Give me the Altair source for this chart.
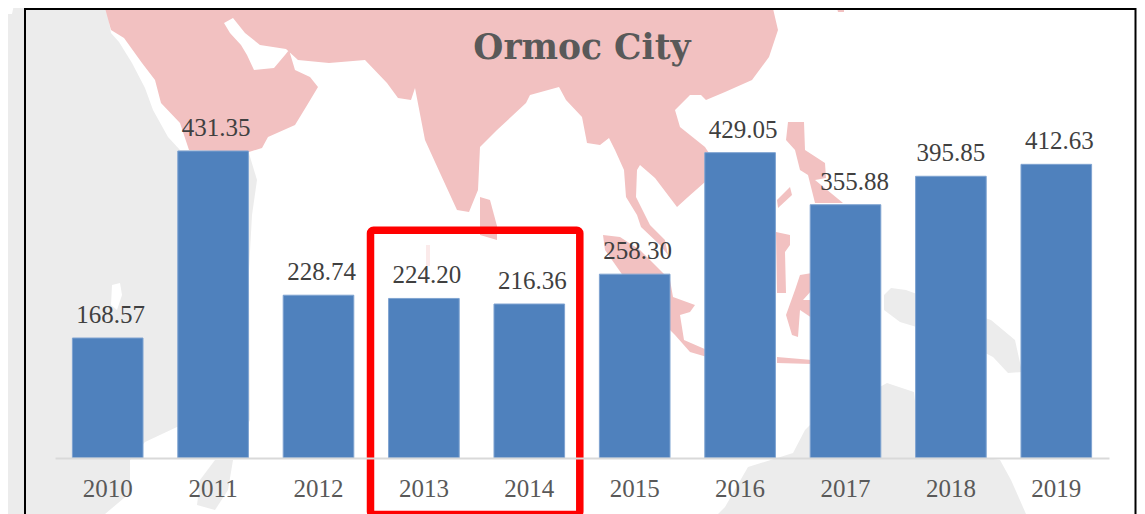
import altair as alt
import pandas as pd

years = ["2010", "2011", "2012", "2013", "2014", "2015", "2016", "2017", "2018", "2019"]
values = [168.57, 431.35, 228.74, 224.20, 216.36, 258.30, 429.05, 355.88, 395.85, 412.63]
labels = ["168.57", "431.35", "228.74", "224.20", "216.36", "258.30", "429.05", "355.88", "395.85", "412.63"]

# Decorative background map outlines (traced in picture pixels)
asia = [[(105,0),(105,8),(111,30),(124,38),(142,63),(155,80),(161,103),(180,123),(189,150),(249,152),(262,148),
         (268,137),(295,125),(306,107),(318,87),(310,77),(295,70),(292,60),(289,50),(285,55),(274,68),(254,70),
         (247,55),(241,45),(230,33),(224,23),(233,18),(245,33),(260,45),(286,49),(298,60),(329,63),(365,60),
         (387,83),(398,98),(411,100),(415,88),(425,140),(440,173),(457,210),(469,212),(478,190),(480,147),
         (497,130),(526,103),(530,95),(559,87),(566,100),(582,117),(587,143),(600,145),(609,138),(615,150),
         (624,170),(626,197),(637,215),(641,227),(660,245),(668,255),(665,240),(650,225),(636,197),(637,170),
         (640,165),(655,178),(677,207),(688,197),(705,182),(720,170),(705,147),(680,127),(675,110),(690,95),
         (701,95),(706,100),(725,92),(752,80),(769,57),(778,30),(771,0)],
        [(603,235),(620,237),(640,250),(670,280),(673,297),(695,305),(690,312),(680,315),(684,340),(707,350),
         (707,357),(690,352),(675,335),(640,300),(605,250)],
        [(480,197),(490,200),(497,226),(497,240),(480,235)],
        [(788,122),(804,122),(805,150),(825,163),(826,178),(815,180),(843,203),(815,203),(808,175),(800,170),
         (795,150),(786,140)],
        [(790,187),(792,195),(778,208),(777,200)],
        [(776,232),(790,235),(790,245),(785,252),(786,293),(777,293)],
        [(812,273),(800,275),(795,290),(786,315),(792,335),(798,337),(800,310),(812,318),(812,300),(803,300),(812,290)],
        [(777,357),(812,360),(812,364),(777,363)],
        [(835,0),(844,0),(844,12),(838,12)]]
faint_isles = [[(426,245),(430,245),(430,266),(426,266)]]
grey_land = [[(0,14),(12,14),(15,0),(105,0),(111,33),(119,42),(132,63),(145,88),(153,110),(168,137),(180,150),
              (248,150),(257,180),(252,215),(249,270),(250,420),(240,440),(177,427),(145,442),(130,460),(130,493),
              (105,514),(0,514)],
             [(215,460),(233,460),(228,490),(215,510),(197,505),(200,480)],
             [(805,430),(810,425),(887,383),(914,392),(917,420),(986,458),(1000,460),(1011,480),(1026,514),(718,514),
              (725,507),(748,467),(793,453)],
             [(884,295),(891,288),(906,290),(960,310),(991,320),(1015,340),(1022,372),(1008,373),(993,357),(960,340),
              (900,322),(884,310)]]
lakes = [[(112,285),(120,283),(122,295),(117,310),(111,305)]]

def features(polys):
    return {"type": "FeatureCollection", "features": [
        {"type": "Feature", "properties": {},
         "geometry": {"type": "Polygon", "coordinates": [[list(p) for p in poly + [poly[0]]]]}} for poly in polys]}

def land(polys, color):
    return alt.Chart(alt.InlineData(values=features(polys), format=alt.DataFormat(type="json", property="features"))
        ).mark_geoshape(fill=color, stroke=None, clip=False).project(type="identity", scale=1, translate=[-55, -8])

df = pd.DataFrame({"year": years, "value": values, "label": labels})
FONT = "Liberation Serif"

x = alt.X("year:N", sort=years, title=None,
          scale=alt.Scale(paddingInner=0.33, paddingOuter=0.165),
          axis=alt.Axis(labelAngle=0, ticks=False, domain=True, domainColor="#d9d9d9", domainWidth=2, grid=False,
                        labelFont=FONT, labelFontSize=25, labelColor="#595959", labelPadding=18, zindex=1))
y = alt.Y("value:Q", axis=None, scale=alt.Scale(domain=[0, 632.3]))

bars = alt.Chart(df).mark_bar(color="#4f81bd", stroke="#7fa3d1", strokeWidth=1).encode(x=x, y=y)

def text(cond, dx):
    return alt.Chart(df).transform_filter(cond).mark_text(
        font=FONT, fontSize=25, color="#404040", dx=dx, dy=-23, baseline="middle", align="center"
    ).encode(x=x, y=y, text="label:N")

texts = [text("datum.year != '2017' && datum.year != '2018'", 3), text("datum.year == '2017'", 9), text("datum.year == '2018'", 0)]

one = alt.Data(values=[{"a": 1}])
frame = alt.Chart(one).mark_rect(fill=None, stroke="#000000", strokeWidth=2).encode(
    x=alt.value(25 - 55), x2=alt.value(1135.5 - 55), y=alt.value(9 - 8), y2=alt.value(530))
box = alt.Chart(one).mark_rect(fill=None, stroke="#ff0000", strokeWidth=7.5, cornerRadius=3).encode(
    x=alt.value(370.5 - 55), x2=alt.value(579.8 - 55), y=alt.value(230.3 - 8), y2=alt.value(514.5 - 8))

chart = alt.layer(land(grey_land, "#ececec"), land(lakes, "#ffffff"), land(asia, "#f2c1c1"), land(faint_isles, "#fbeaea"),
                  bars, *texts, frame, box).properties(
    width=1054, height=450, background="#ffffff",
    padding={"left": 47, "top": 0, "right": 28, "bottom": 56},
    autosize=alt.AutoSizeParams(type="none"),
    title=alt.TitleParams("Ormoc City", font="DejaVu Serif", fontSize=34.5, fontWeight="bold", color="#595959",
                          anchor="middle", baseline="middle", offset=0, dy=83, zindex=1),
).configure_view(stroke=None)

chart.save("out.html", embed_options={"renderer": "svg", "actions": False})
